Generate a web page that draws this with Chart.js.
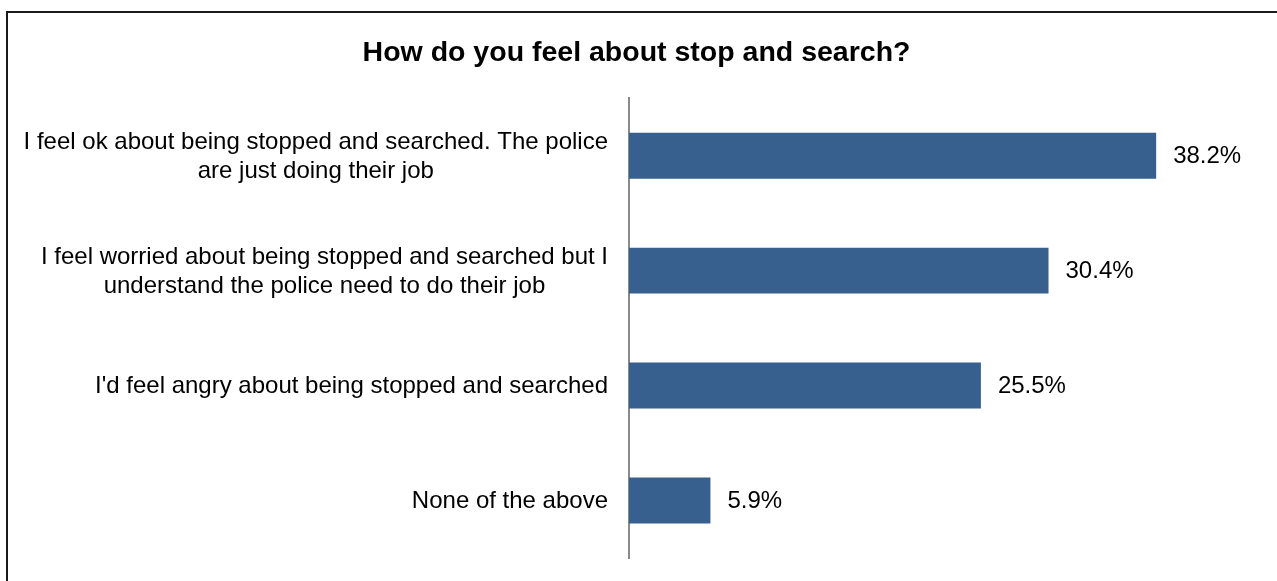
<!DOCTYPE html>
<html>
<head>
<meta charset="utf-8">
<script src="https://cdn.jsdelivr.net/npm/chart.js@4/dist/chart.umd.min.js"></script>
<style>
  html, body { margin: 0; padding: 0; background: #fff; }
  #wrap { position: relative; width: 1277px; height: 581px; overflow: hidden; }
  #frame {
    position: absolute; left: 6px; top: 11px; width: 1400px; height: 700px;
    border-left: 2px solid #1a1a1a; border-top: 2px solid #1a1a1a;
    pointer-events: none;
  }
</style>
</head>
<body>
<div id="wrap">
  <canvas id="chart" width="1277" height="581"></canvas>
  <div id="frame"></div>
</div>
<script>
const title = 'How do you feel about stop and search?';
const answers = [
    ['I feel ok about being stopped and searched. The police', 'are just doing their job'],
    ['I feel worried about being stopped and searched but I', 'understand the police need to do their job'],
    ["I'd feel angry about being stopped and searched"],
    ['None of the above']
];
const percents = [38.2, 30.4, 25.5, 5.9];

const FONT = "'Liberation Sans', Arial, sans-serif";

// category labels: block right-aligned against the axis, lines centred inside the block
const answerLabels = {
    id: 'answerLabels',
    afterDraw(chart) {
        const ctx = chart.ctx;
        const y = chart.scales.y;
        const lineH = 29;
        ctx.save();
        ctx.font = '24px ' + FONT;
        ctx.fillStyle = '#000';
        ctx.textBaseline = 'middle';
        ctx.textAlign = 'center';
        chart.data.labels.forEach((lines, i) => {
            const maxW = Math.max(...lines.map(l => ctx.measureText(l).width));
            const right = chart.chartArea.left - 21;
            const cy = y.getPixelForValue(i) + 1;
            lines.forEach((l, k) => {
                ctx.fillText(l, right - maxW / 2, cy + (k - (lines.length - 1) / 2) * lineH);
            });
        });
        ctx.restore();
    }
};

// percentage text at the end of each bar
const valueLabels = {
    id: 'valueLabels',
    afterDatasetsDraw(chart) {
        const ctx = chart.ctx;
        const meta = chart.getDatasetMeta(0);
        ctx.save();
        ctx.font = '24px ' + FONT;
        ctx.fillStyle = '#000';
        ctx.textBaseline = 'middle';
        ctx.textAlign = 'left';
        meta.data.forEach((bar, i) => {
            ctx.fillText(percents[i].toFixed(1) + '%', bar.x + 17, bar.y + 1);
        });
        ctx.restore();
    }
};

new Chart(document.getElementById('chart'), {
    type: 'bar',
    data: {
        labels: answers,
        datasets: [{
            data: percents,
            backgroundColor: '#37608f',
            borderWidth: 0,
            barPercentage: 0.8,
            categoryPercentage: 0.5
        }]
    },
    options: {
        indexAxis: 'y',
        responsive: false,
        animation: false,
        layout: { padding: { left: 23, right: 27, top: 0, bottom: 23 } },
        plugins: {
            legend: { display: false },
            tooltip: { enabled: false },
            title: {
                display: true,
                text: title,
                color: '#000',
                font: { family: FONT, size: 28.5, weight: 'bold', lineHeight: 1.2 },
                padding: { top: 36, bottom: 28 }
            }
        },
        scales: {
            x: {
                display: false,
                min: 0,
                max: 45
            },
            y: {
                grid: { display: false },
                border: { display: true, color: '#8a8a8a', width: 2 },
                ticks: { display: false },
                afterFit(scale) { scale.width = 606; }
            }
        }
    },
    plugins: [answerLabels, valueLabels]
});
</script>
</body>
</html>
